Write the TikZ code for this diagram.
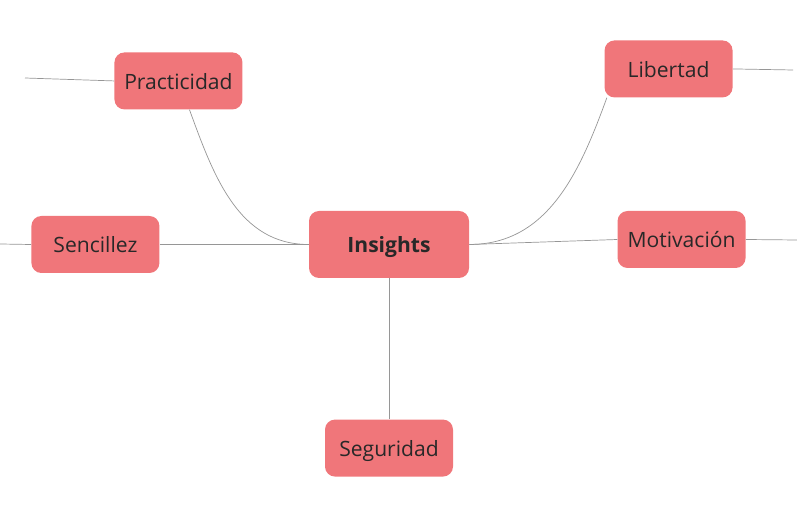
\documentclass[tikz,border=0pt]{standalone}
\usepackage{fontspec}
\setmainfont{Open Sans}
\usepackage{tikz}
\usetikzlibrary{positioning}
\definecolor{insightred}{RGB}{240,118,122}
\definecolor{inktext}{RGB}{40,40,40}
\definecolor{linkgray}{RGB}{150,150,150}

\begin{document}
\begin{tikzpicture}[
    node distance=1cm,
    idea/.style={rectangle, fill=insightred, rounded corners=0.25cm, minimum width=3.2cm, minimum height=1.425cm, align=center, text=inktext, text height=14pt, text depth=2pt, font=\fontsize{15}{18}\selectfont},
    core/.style={idea, minimum width=4cm, minimum height=1.675cm, font=\fontsize{15}{18}\selectfont\bfseries},
    link/.style={draw=linkgray, line width=0.5pt}
]
    \useasboundingbox (0,0) rectangle (19.925,12.85);

    \node[core] (insights) at (9.725,6.7375) {Insights};
    \node[idea, left=3.725cm of insights] (sencillez) {Sencillez};
    \node[idea, right=3.7cm of insights, yshift=0.125cm] (motivacion) {Motivación};
    \node[idea, below=3.525cm of insights] (seguridad) {Seguridad};
    \node[idea, above left=2.525cm and 1.65cm of insights] (practicidad) {Practicidad};
    \node[idea, above right=2.825cm and 3.375cm of insights] (libertad) {Libertad};

    % loose ends at the picture border
    \coordinate (pracend) at (0.625,10.9);
    \coordinate (libend) at (19.825,11.1);
    \coordinate (sencend) at (0,6.75);
    \coordinate (motend) at (19.925,6.85);

    \draw[link] (practicidad.-69) to[out=-70, in=180] (insights.west);
    \draw[link] (libertad.205) to[out=-110, in=0] (insights.east);
    \draw[link] (sencillez.east) -- (insights.west);
    \draw[link] (insights.east) -- (motivacion.west);
    \draw[link] (insights.south) -- (seguridad.north);
    \draw[link] (pracend) -- (practicidad.west);
    \draw[link] (libertad.east) -- (libend);
    \draw[link] (sencend) -- (sencillez.west);
    \draw[link] (motivacion.east) -- (motend);
\end{tikzpicture}
\end{document}
